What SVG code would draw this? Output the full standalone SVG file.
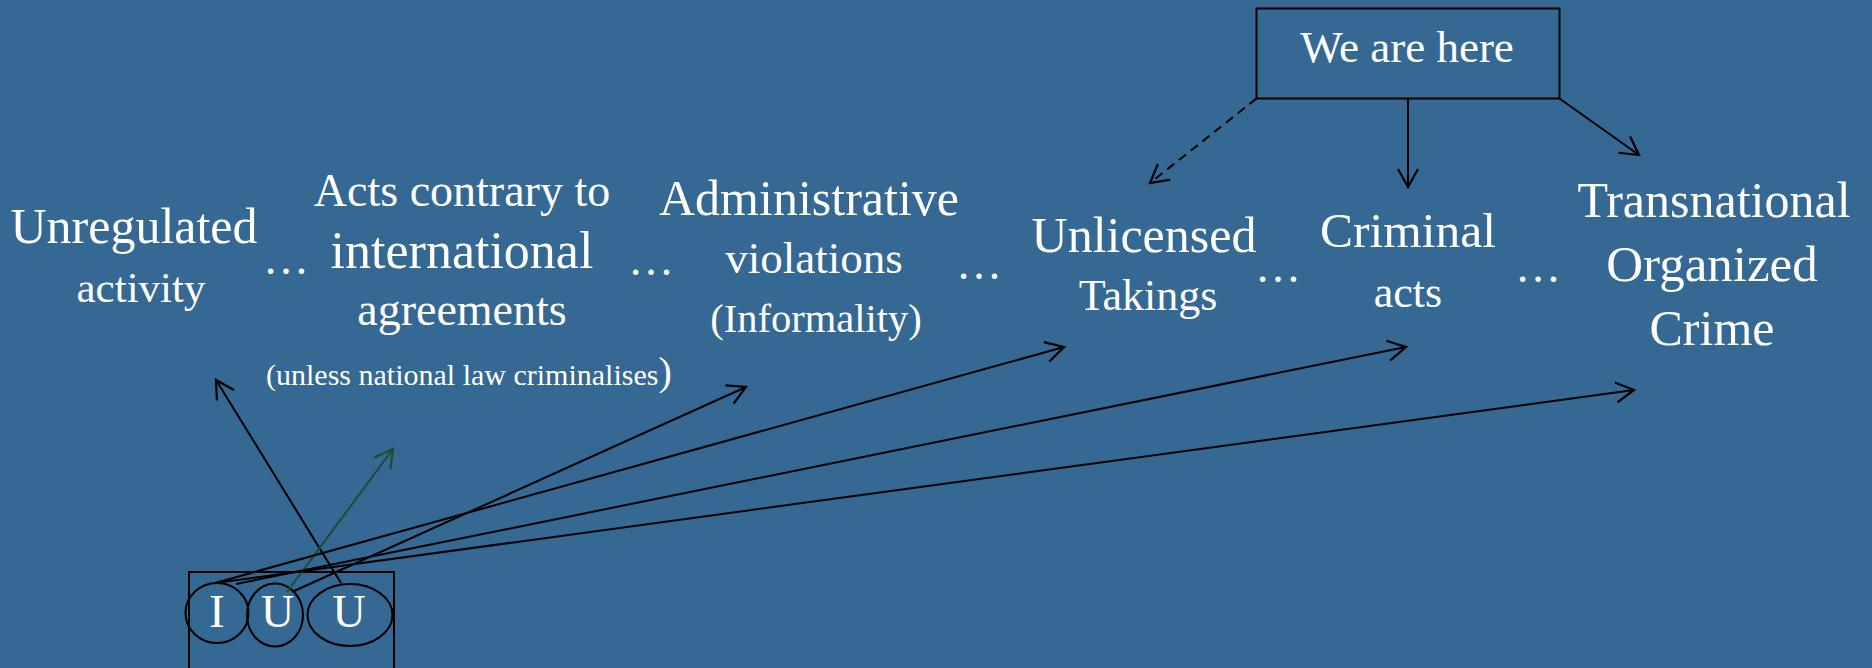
<svg xmlns="http://www.w3.org/2000/svg" width="1872" height="668" viewBox="0 0 1872 668">
<style>
text{font-family:"Liberation Serif","Times New Roman",serif;fill:#ffffff;text-anchor:middle}
.ln{stroke:#000;stroke-width:2;fill:none}
.sh{fill:none;stroke:#000;stroke-width:2}
.dots{font-size:46px}
</style>
<defs>
<marker id="ah" markerUnits="userSpaceOnUse" viewBox="-22 -12 26 24" refX="0" refY="0" markerWidth="26" markerHeight="24" orient="auto">
<path d="M-18,-10 L0,0 L-18,10" fill="none" stroke="#000" stroke-width="2.2"/>
</marker>
<marker id="ahg" markerUnits="userSpaceOnUse" viewBox="-22 -12 26 24" refX="0" refY="0" markerWidth="26" markerHeight="24" orient="auto">
<path d="M-18,-10 L0,0 L-18,10" fill="none" stroke="#214a30" stroke-width="2.2"/>
</marker>
</defs>
<rect width="1872" height="668" fill="#356892"/>

<g id="n-unregulated">
<text x="134" y="243" font-size="50">Unregulated</text>
<text x="141" y="302" font-size="43">activity</text>
</g>
<g id="n-acts">
<text x="462" y="206" font-size="46">Acts contrary to</text>
<text x="462" y="268" font-size="52">international</text>
<text x="462" y="325" font-size="46">agreements</text>
<text x="266" y="385" font-size="30" style="text-anchor:start">(unless national law criminalises<tspan font-size="40">)</tspan></text>
</g>
<g id="n-admin">
<text x="809" y="215" font-size="50">Administrative</text>
<text x="814" y="273" font-size="45">violations</text>
<text x="816" y="332" font-size="40.5">(Informality)</text>
</g>
<g id="n-unlicensed">
<text x="1144" y="252" font-size="50">Unlicensed</text>
<text x="1148" y="310" font-size="44">Takings</text>
</g>
<g id="n-criminal">
<text x="1408" y="247" font-size="49.5">Criminal</text>
<text x="1408" y="307" font-size="44">acts</text>
</g>
<g id="n-toc">
<text x="1714" y="217" font-size="50">Transnational</text>
<text x="1712" y="281" font-size="51">Organized</text>
<text x="1712" y="345" font-size="50">Crime</text>
</g>
<g id="n-dots">
<text class="dots" x="286" y="274">…</text>
<text class="dots" x="651" y="275">…</text>
<text class="dots" x="979" y="279">…</text>
<text class="dots" x="1278" y="282">…</text>
<text class="dots" x="1538" y="282">…</text>
</g>
<g id="n-here">
<rect x="1256.5" y="8.5" width="303" height="90" class="sh"/>
<text x="1407" y="62" font-size="45">We are here</text>
</g>
<g id="n-iuu">
<rect x="189" y="572" width="205" height="110" class="sh"/>
<ellipse cx="217" cy="613" rx="31.5" ry="30" class="sh"/>
<ellipse cx="275" cy="615" rx="28" ry="31.5" class="sh"/>
<ellipse cx="350" cy="615" rx="42.5" ry="31" class="sh"/>
<text x="217" y="627" font-size="46">I</text>
<text x="277.5" y="627" font-size="46">U</text>
<text x="349" y="627" font-size="46">U</text>
</g>

<g id="connectors">
<line x1="1256.5" y1="98.5" x2="1150" y2="183" class="ln" stroke-dasharray="9,6" marker-end="url(#ah)"/>
<line x1="1408" y1="98.5" x2="1408" y2="187" class="ln" marker-end="url(#ah)"/>
<line x1="1559.5" y1="98.5" x2="1639" y2="155" class="ln" marker-end="url(#ah)"/>
<line x1="341" y1="583" x2="216" y2="380" class="ln" marker-end="url(#ah)"/>
<line x1="287" y1="592" x2="393" y2="449" stroke="#214a30" stroke-width="2" marker-end="url(#ahg)"/>
<line x1="293" y1="591.5" x2="746" y2="387" class="ln" marker-end="url(#ah)"/>
<line x1="215" y1="583" x2="1064" y2="347" class="ln" marker-end="url(#ah)"/>
<line x1="236" y1="584" x2="1406" y2="347" class="ln" marker-end="url(#ah)"/>
<line x1="215" y1="583" x2="1634" y2="390" class="ln" marker-end="url(#ah)"/>
</g>
</svg>
